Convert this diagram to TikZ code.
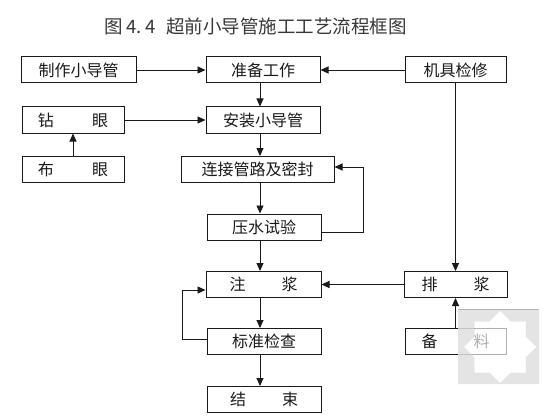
\documentclass[tikz,border=0pt]{standalone}
\usepackage{fontspec}
\setmainfont{Noto Sans CJK SC}
\usetikzlibrary{arrows.meta,calc}
\definecolor{inkc}{HTML}{1A1A1A}
\definecolor{titlec}{HTML}{383838}
\definecolor{wmgray}{HTML}{E0E0E0}
\def\wmstar{(500,311) -- (510.5,321.5) -- (525.5,321.5) -- (525.5,336.5) -- (536,347) -- (525.5,357.5) -- (525.5,372.5) -- (510.5,372.5) -- (500,383) -- (489.5,372.5) -- (474.5,372.5) -- (474.5,357.5) -- (464,347) -- (474.5,336.5) -- (474.5,321.5) -- (489.5,321.5) -- cycle}
\begin{document}
\begin{tikzpicture}[x=1pt,y=-1pt,
  box/.style={draw=inkc,line width=1pt,minimum height=26pt,inner sep=0pt,text=inkc,
    font=\fontsize{16}{18}\selectfont},
  arr/.style={draw=inkc,line width=0.9pt,-{Triangle[length=8pt,width=7pt]}},
  plainline/.style={draw=inkc,line width=0.9pt}]
\useasboundingbox[fill=white] (0,0) rectangle (560,420);

% title
\node[anchor=west,inner sep=0pt,text=titlec,font=\fontsize{18.5}{20}\selectfont] (title) at (104,26)
  {图\hspace{4pt}4.\hspace{3pt}4\hspace{11pt}超前小导管施工工艺流程框图};

% column coordinates for vertical runs
\coordinate (col) at (260,0);
\coordinate (fbr) at (363,0);
\coordinate (fbl) at (182,0);

% boxes
\node[box,minimum width=115pt] (zz) at (78.5,70) {制作小导管};
\node[box,minimum width=114pt] (zb) at (263,70) {准备工作};
\node[box,minimum width=101pt] (jj) at (455.5,70) {机具检修};
\node[box,minimum width=102pt] (zy) at (73,120) {钻\hspace{2.4em}眼};
\node[box,minimum width=114pt] (az) at (263,120) {安装小导管};
\node[box,minimum width=102pt] (by) at (73,169.5) {布\hspace{2.4em}眼};
\node[box,minimum width=153pt] (lj) at (257.5,169.5) {连接管路及密封};
\node[box,minimum width=114pt] (ys) at (264,227) {压水试验};
\node[box,minimum width=115pt] (zj) at (263.5,284.5) {注\hspace{2.25em}浆};
\node[box,minimum width=103pt] (pj) at (455.5,284.5) {排\hspace{2.25em}浆};
\node[box,minimum width=114pt] (bz) at (264,341.5) {标准检查};
\node[box,minimum width=101pt] (bl) at (455.5,341.5) {备\hspace{2.25em}料};
\node[box,minimum width=114pt] (js) at (264,399.5) {结\hspace{2.25em}束};

% horizontal connectors
\draw[arr] (zz.east) -- (zb.west);
\draw[arr] (jj.west) -- (zb.east);
\draw[arr] (zy.east) -- (az.west);
\draw[arr] (pj.west) -- (zj.east);

% main column
\draw[arr] (zb.south -| col) -- (az.north -| col);
\draw[arr] (az.south -| col) -- (lj.north -| col);
\draw[arr] (lj.south -| col) -- (ys.north -| col);
\draw[arr] (ys.south -| col) -- (zj.north -| col);
\draw[arr] (zj.south -| col) -- (bz.north -| col);
\draw[arr] (bz.south -| col) -- (js.north -| col);

% left column
\draw[arr] (by.north) -- (zy.south);

% right column
\draw[arr] (jj.south) -- (pj.north);
\draw[arr] (bl.north) -- (pj.south);

% feedback loops
\draw[arr] ([yshift=-5pt]ys.east) -| ([yshift=2.5pt]lj.east -| fbr) -- ([yshift=2.5pt]lj.east);
\draw[arr] ([yshift=2.5pt]bz.west) -| ([yshift=-5.5pt]zj.west -| fbl) -- ([yshift=-5.5pt]zj.west);

% watermark
\fill[wmgray,opacity=0.85,even odd rule] (458,309) rectangle (539,384) \wmstar;
\draw[gray!60,line width=0.6pt] (458,309) -- (539,309);
\fill[white,opacity=0.65] \wmstar;
\end{tikzpicture}
\end{document}
